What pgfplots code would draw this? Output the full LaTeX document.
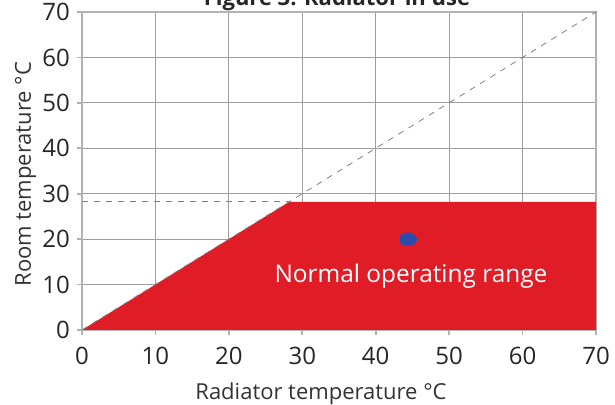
\documentclass[border=0pt]{standalone}
\usepackage{pgfplots}
\pgfplotsset{compat=1.18}
\usepackage{fontspec}
\setmainfont{Open Sans}
\definecolor{redfill}{RGB}{224,28,38}
\definecolor{bluedot}{RGB}{45,75,170}
\begin{document}
\begin{tikzpicture}
\begin{axis}[
  scale only axis, width=257pt, height=159pt,
  xmin=0, xmax=70, ymin=0, ymax=70,
  xtick={0,10,...,70}, ytick={0,10,...,70},
  grid=major, grid style={gray!75, line width=0.6pt},
  axis line style={gray!60, line width=0.8pt},
  tick style={gray!60, line width=0.8pt},
  tick align=outside, major tick length=2.5pt, tick pos=left,
  ticklabel style={font=\fontsize{12}{14}\selectfont, text=black!85},
  xticklabel style={yshift=-2.5pt},
  /pgf/number format/assume math mode=true,
  xlabel={Radiator temperature °C}, ylabel={Room temperature °C},
  label style={font=\fontsize{11}{13}\selectfont, text=black!80},
  xlabel style={at={(axis description cs:0.465,-0.22)}, anchor=base},
  ylabel style={at={(axis description cs:-0.11,0.49)}, anchor=center},
]
\addplot[fill=redfill, draw=none] coordinates {(0,0) (28.2,28.2) (70,28.2) (70,0)} -- cycle;
\addplot[gray, dashed, line width=0.4pt] coordinates {(0,0) (70,70)};
\addplot[gray, dashed, line width=0.4pt] coordinates {(0,28.2) (28.2,28.2)};
\addplot[only marks, mark=*, mark size=3.2pt, mark options={fill=bluedot, draw=bluedot, line width=0pt, xscale=1.3}] coordinates {(44.4,20)};
\node[text=white, font=\fontsize{12.2}{14}\selectfont] at (axis cs:44.8,11.8) {Normal operating range};
\coordinate (sw) at (rel axis cs:0,0);
\coordinate (ne) at (rel axis cs:1,1);
\coordinate (tt) at (rel axis cs:0.496,1);
\end{axis}
\node[font=\bfseries\fontsize{11}{13}\selectfont, anchor=base, text=black!85, inner sep=0pt] at ([yshift=3.4pt]tt) {Figure 3: Radiator in use};
\pgfresetboundingbox
\useasboundingbox ([xshift=-41pt,yshift=-37.5pt]sw) rectangle ([xshift=9.5pt,yshift=6pt]ne);
\end{tikzpicture}
\end{document}
